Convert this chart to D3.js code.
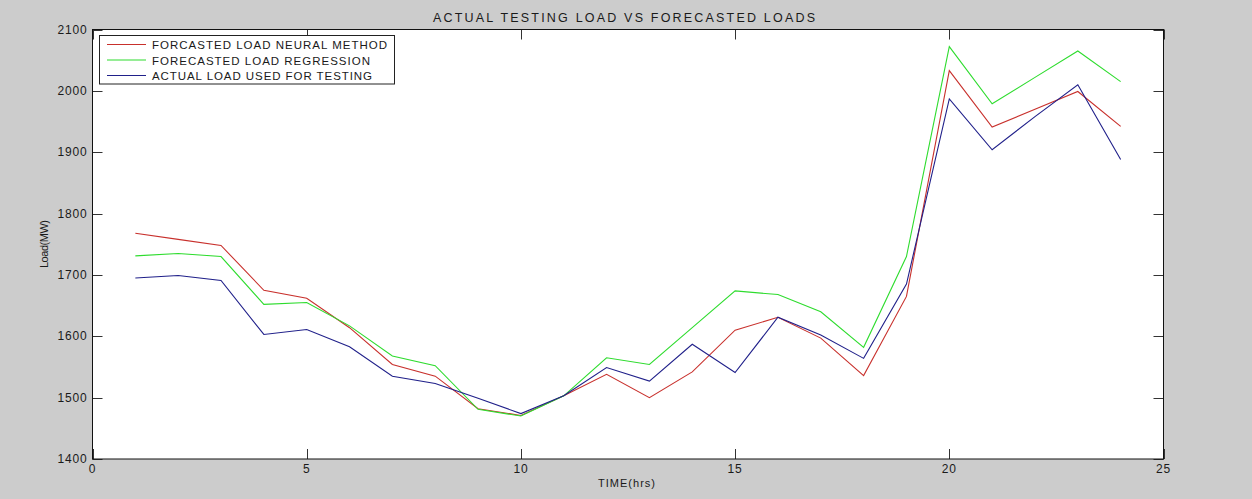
<!DOCTYPE html>
<html>
<head>
<meta charset="utf-8">
<script src="https://cdn.jsdelivr.net/npm/d3@7/dist/d3.min.js"></script>
<style>
  html, body { margin: 0; padding: 0; background: #cccccc; }
  svg { display: block; }
  text { font-family: "Liberation Sans", Arial, sans-serif; fill: #1a1a1a; }
</style>
</head>
<body>
<svg id="chart" width="1252" height="499"></svg>
<script>
// Hourly loads (MW)
const hours = [1, 2, 3, 4, 5, 6, 7, 8, 9, 10, 11, 12, 13, 14, 15, 16, 17, 18, 19, 20, 21, 22, 23, 24];
const neuralForecast = [1768, 1758, 1748, 1675, 1662, 1614, 1554, 1535, 1482, 1471, 1503, 1538, 1500, 1542, 1610, 1631, 1597, 1536, 1665, 2033, 1941, 1970, 1999, 1942];
const regressionForecast = [1731, 1735, 1730, 1652, 1655, 1617, 1568, 1552, 1481, 1470, 1503, 1565, 1554, 1614, 1674, 1668, 1640, 1582, 1730, 2072, 1979, 2022, 2065, 2015];
const actualLoad = [1695, 1699, 1691, 1603, 1611, 1583, 1535, 1523, 1499, 1474, 1503, 1549, 1527, 1587, 1541, 1631, 1602, 1564, 1685, 1987, 1904, 1958, 2010, 1888];

const xTicks = [0, 5, 10, 15, 20, 25];
const yTicks = [1400, 1500, 1600, 1700, 1800, 1900, 2000, 2100];

const seriesNames = ["FORCASTED LOAD NEURAL METHOD", "FORECASTED LOAD REGRESSION", "ACTUAL LOAD USED FOR TESTING"];
const seriesColors = ["#c8302c", "#2edc2e", "#20208a"];
const seriesValues = [neuralForecast, regressionForecast, actualLoad];
// widths of the legend entries in the wide UI font
const legendTextWidths = [235, 218, 220];

const plot = { left: 92.5, right: 1163.5, top: 29.5, bottom: 459 };

const svg = d3.select("#chart");

const x = d3.scaleLinear().domain([0, 25]).range([plot.left, plot.right]);
const y = d3.scaleLinear().domain([1400, 2100]).range([plot.bottom, plot.top]);

// Axes area
svg.append("rect")
  .attr("x", plot.left).attr("y", plot.top)
  .attr("width", plot.right - plot.left).attr("height", plot.bottom - plot.top)
  .attr("fill", "#ffffff");

// Series lines
const line = d3.line().x((d, i) => x(hours[i])).y(d => y(d));
seriesValues.forEach((vals, k) => {
  svg.append("path")
    .datum(vals)
    .attr("d", line)
    .attr("fill", "none")
    .attr("stroke", seriesColors[k])
    .attr("stroke-width", 1.1)
    .attr("stroke-linejoin", "miter");
});

// Inward ticks on all four sides
const tickLen = 10;
const tickG = svg.append("g").attr("stroke", "#333").attr("stroke-width", 1);
xTicks.forEach(t => {
  const px = Math.round(x(t)) + 0.5;
  tickG.append("line").attr("x1", px).attr("x2", px).attr("y1", plot.bottom).attr("y2", plot.bottom - tickLen);
  tickG.append("line").attr("x1", px).attr("x2", px).attr("y1", plot.top).attr("y2", plot.top + tickLen);
});
yTicks.forEach(t => {
  const py = Math.round(y(t)) + 0.5;
  tickG.append("line").attr("x1", plot.left).attr("x2", plot.left + tickLen).attr("y1", py).attr("y2", py);
  tickG.append("line").attr("x1", plot.right).attr("x2", plot.right - tickLen).attr("y1", py).attr("y2", py);
});

// Axes box
svg.append("rect")
  .attr("x", plot.left).attr("y", plot.top)
  .attr("width", plot.right - plot.left).attr("height", plot.bottom - plot.top)
  .attr("fill", "none").attr("stroke", "#111").attr("stroke-width", 1);

// Tick labels
svg.append("g").selectAll("text").data(xTicks).join("text")
  .attr("x", d => x(d)).attr("y", plot.bottom + 14)
  .attr("text-anchor", "middle").attr("font-size", 12)
  .attr("letter-spacing", 0.8)
  .text(d => d);
svg.append("g").selectAll("text").data(yTicks).join("text")
  .attr("x", plot.left - 5).attr("y", d => y(d) + 4)
  .attr("text-anchor", "end").attr("font-size", 12)
  .attr("letter-spacing", 0.8)
  .text(d => d);

// Title and axis labels
svg.append("text")
  .attr("x", 433).attr("y", 22)
  .attr("font-size", 12.5)
  .attr("textLength", 382).attr("lengthAdjust", "spacing")
  .text("ACTUAL TESTING LOAD VS FORECASTED LOADS");
svg.append("text")
  .attr("x", 598).attr("y", 487)
  .attr("font-size", 11)
  .attr("textLength", 57).attr("lengthAdjust", "spacing")
  .text("TIME(hrs)");
svg.append("text")
  .attr("transform", "translate(48,268) rotate(-90)")
  .attr("font-size", 11)
  .attr("textLength", 48).attr("lengthAdjust", "spacing")
  .text("Load(MW)");

// Legend
const legend = svg.append("g");
legend.append("rect")
  .attr("x", 99.5).attr("y", 35.5).attr("width", 295).attr("height", 48.5)
  .attr("fill", "#ffffff").attr("stroke", "#222").attr("stroke-width", 1);
seriesNames.forEach((name, k) => {
  const ly = 44.5 + k * 15.5;
  legend.append("line")
    .attr("x1", 107).attr("x2", 146).attr("y1", ly).attr("y2", ly)
    .attr("stroke", seriesColors[k]).attr("stroke-width", 1.1);
  legend.append("text")
    .attr("x", 152).attr("y", ly + 4.5)
    .attr("font-size", 11.5)
    .attr("textLength", legendTextWidths[k]).attr("lengthAdjust", "spacing")
    .text(name);
});
</script>
</body>
</html>
